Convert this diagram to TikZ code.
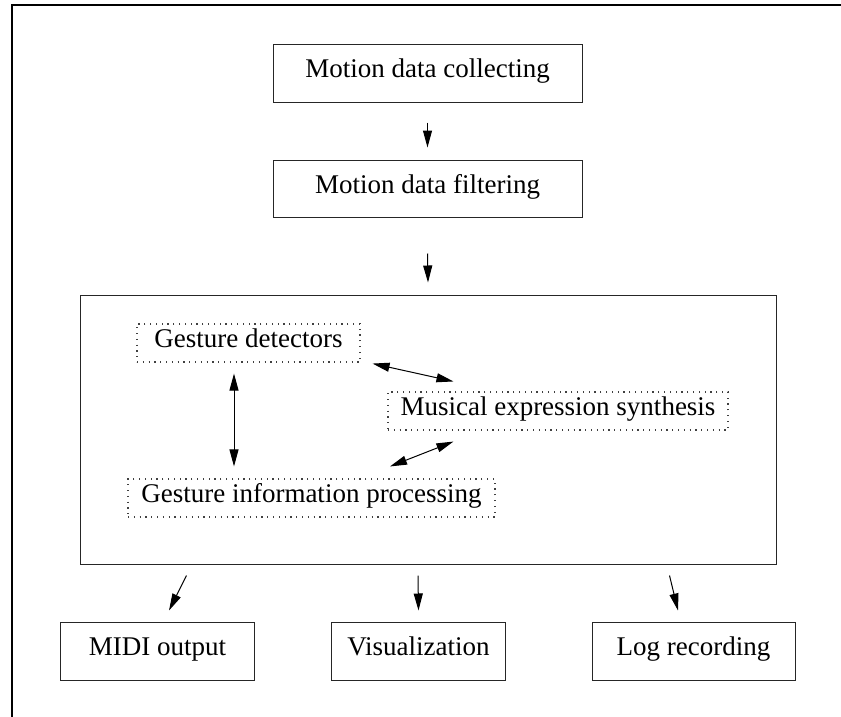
\documentclass[tikz,border=0pt]{standalone}
\usepackage{fontspec}
\setmainfont{Liberation Serif}
\usetikzlibrary{arrows.meta}
\begin{document}
\begin{tikzpicture}[x=1pt,y=-1pt,
  every node/.style={font=\fontsize{27}{32}\selectfont, inner sep=0pt,
    text height=0.9em, text depth=0pt},
  solidbox/.style={draw=black!85, line width=1pt},
  dotbox/.style={draw=black!75, line width=1.1pt, dash pattern=on 1.2pt off 4.6pt},
  arr/.style={line width=1pt, -{Triangle[length=17pt,width=9pt]}},
  dblarr/.style={line width=1pt, {Triangle[length=17pt,width=9pt]}-{Triangle[length=17pt,width=9pt]}},
  frameline/.style={line width=1.3pt, line cap=rect}]
\useasboundingbox (0,0) rectangle (841,716);

% page frame (top and left edges)
\coordinate (ftop) at (841,5);
\coordinate (fcorner) at (12,5);
\coordinate (fbottom) at (12,716);
\draw[frameline] (ftop) -- (fcorner) -- (fbottom);

% input chain
\node[solidbox, minimum width=309pt, minimum height=58pt] (collect) at (427.5,73) {Motion data collecting};
\node[solidbox, minimum width=309pt, minimum height=57pt] (filter) at (427.5,188.5) {Motion data filtering};

% core processing block
\node[solidbox, minimum width=696pt, minimum height=269pt] (core) at (428,429.5) {};
\node[dotbox, minimum width=223pt, minimum height=38pt] (detect) at (248.5,343) {Gesture detectors};
\node[dotbox, minimum width=340pt, minimum height=38pt] (synth) at (558,411) {Musical expression synthesis};
\node[dotbox, minimum width=367pt, minimum height=38pt] (proc) at (311.5,498) {Gesture information processing};

% outputs
\node[solidbox, minimum width=194pt, minimum height=58pt] (midi) at (157.5,651) {MIDI output};
\node[solidbox, minimum width=174pt, minimum height=58pt] (vis) at (418.5,651) {Visualization};
\node[solidbox, minimum width=203pt, minimum height=58pt] (log) at (693.5,651) {Log recording};

% connectors
\draw[arr] ([shift={(0,20)}]collect.south) -- ([shift={(0,-12)}]filter.north);
\draw[arr] ([shift={(0,36)}]filter.south) -- ([shift={(0,-12)}]core.north);

\draw[dblarr] ([shift={(-14.5,11)}]detect.south) -- ([shift={(-77.5,-12)}]proc.north);
\draw[dblarr] ([shift={(12,1)}]detect.south east) -- ([shift={(66,-10)}]synth.north west);
\draw[dblarr] ([shift={(78.5,-12)}]proc.north) -- ([shift={(66,11)}]synth.south west);

\draw[arr] ([shift={(107,11)}]core.south west) -- ([shift={(11.5,-11)}]midi.north);
\draw[arr] ([shift={(-10,11)}]core.south) -- ([shift={(0,-11)}]vis.north);
\draw[arr] ([shift={(-107,11)}]core.south east) -- ([shift={(-15.5,-11)}]log.north);
\end{tikzpicture}
\end{document}
